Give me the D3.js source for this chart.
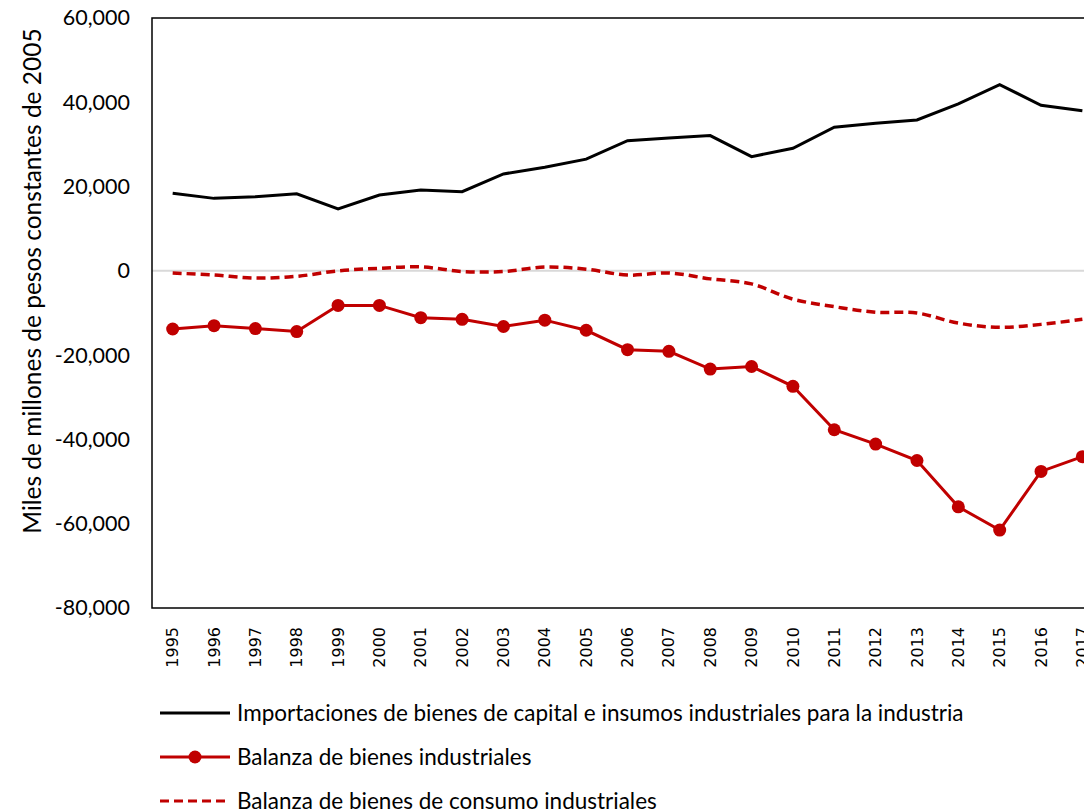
<!DOCTYPE html>
<html>
<head>
<meta charset="utf-8">
<script src="https://cdnjs.cloudflare.com/ajax/libs/d3/7.8.5/d3.min.js"></script>
<style>
  body { margin: 0; background: #fff; }
  svg { display: block; }
</style>
</head>
<body>
<script>
(function () {

// data
var years = [1995, 1996, 1997, 1998, 1999, 2000, 2001, 2002, 2003, 2004, 2005, 2006,
             2007, 2008, 2009, 2010, 2011, 2012, 2013, 2014, 2015, 2016, 2017];

var importaciones = [18400, 17200, 17600, 18300, 14700, 18000, 19200, 18800, 23000, 24600, 26500, 30900,
                     31500, 32100, 27100, 29100, 34100, 35000, 35800, 39600, 44200, 39300, 38000];

var balanzaIndustriales = [-13800, -13000, -13700, -14400, -8200, -8200, -11100, -11500, -13200, -11700, -14100, -18700,
                           -19100, -23300, -22700, -27400, -37700, -41100, -45000, -56000, -61500, -47600, -44100];

var balanzaConsumo = [-500, -1000, -1700, -1300, 0, 600, 950, -150, -150, 900, 400, -1000,
                      -500, -1900, -3100, -6700, -8500, -9800, -10000, -12400, -13400, -12700, -11500];

var yTicks = [-80000, -60000, -40000, -20000, 0, 20000, 40000, 60000];

var legendLabels = [
    "Importaciones de bienes de capital e insumos industriales para la industria",
    "Balanza de bienes industriales",
    "Balanza de bienes de consumo industriales"
];

var red = "#C00000";

var width = 1084;
var height = 812;

var margin = { top: 18, left: 152, bottom: 608 };
var step = 41.35;

var svg = d3.select("body")
  .append("svg")
    .attr("width", width)
    .attr("height", height);

var x = d3.scalePoint()
    .domain(years)
    .range([margin.left, margin.left + step * years.length])
    .padding(0.5);

var y = d3.scaleLinear()
    .domain([-80000, 60000])
    .range([margin.bottom, margin.top]);

// zero line
svg.append("line")
    .attr("x1", margin.left)
    .attr("x2", width)
    .attr("y1", y(0))
    .attr("y2", y(0))
    .attr("stroke", "#d9d9d9")
    .attr("stroke-width", 2);

// plot border
svg.append("rect")
    .attr("x", margin.left)
    .attr("y", margin.top)
    .attr("width", step * years.length)
    .attr("height", margin.bottom - margin.top)
    .attr("fill", "none")
    .attr("stroke", "#000")
    .attr("stroke-width", 1.5);

// y axis labels (plain hyphen for negatives, like the original)
var fmt = d3.format(",");
var yAxis = d3.axisLeft(y)
    .tickValues(yTicks)
    .tickFormat(function (d) { return fmt(d).replace("\u2212", "-"); })
    .tickSize(0)
    .tickPadding(22);

svg.append("g")
    .attr("transform", "translate(" + margin.left + ",0)")
    .call(yAxis)
    .call(function (g) { g.select(".domain").remove(); })
    .selectAll("text")
    .attr("font-family", "Lato, sans-serif")
    .attr("font-size", 21.5)
    .attr("fill", "#000");

// x axis labels, rotated
var xAxis = d3.axisBottom(x)
    .tickSize(0)
    .tickPadding(0);

svg.append("g")
    .attr("transform", "translate(0," + margin.bottom + ")")
    .call(xAxis)
    .call(function (g) { g.select(".domain").remove(); })
    .selectAll("text")
    .attr("font-family", "DejaVu Sans, sans-serif")
    .attr("font-size", 16)
    .attr("fill", "#000")
    .attr("text-anchor", "end")
    .attr("dy", "0.35em")
    .attr("transform", "translate(-0.5,19) rotate(-90)")
    .attr("y", 0)
    .attr("x", 0);

// axis title
svg.append("text")
    .attr("transform", "translate(41,281) rotate(-90)")
    .attr("text-anchor", "middle")
    .attr("font-family", "Lato, sans-serif")
    .attr("font-size", 24.5)
    .attr("fill", "#000")
    .text("Miles de millones de pesos constantes de 2005");

var straight = d3.line()
    .x(function (d, i) { return x(years[i]); })
    .y(function (d) { return y(d); });

var smooth = d3.line()
    .x(function (d, i) { return x(years[i]); })
    .y(function (d) { return y(d); })
    .curve(d3.curveCatmullRom.alpha(0.5));

svg.append("path")
    .datum(balanzaConsumo)
    .attr("d", smooth)
    .attr("fill", "none")
    .attr("stroke", red)
    .attr("stroke-width", 3.5)
    .attr("stroke-dasharray", "9,5");

svg.append("path")
    .datum(importaciones)
    .attr("d", straight)
    .attr("fill", "none")
    .attr("stroke", "#000")
    .attr("stroke-width", 3);

svg.append("path")
    .datum(balanzaIndustriales)
    .attr("d", straight)
    .attr("fill", "none")
    .attr("stroke", red)
    .attr("stroke-width", 3);

svg.selectAll(".dot")
    .data(balanzaIndustriales)
    .enter()
    .append("circle")
    .attr("class", "dot")
    .attr("cx", function (d, i) { return x(years[i]); })
    .attr("cy", function (d) { return y(d); })
    .attr("r", 6.5)
    .attr("fill", red);

// legend
var legend = svg.append("g")
    .attr("transform", "translate(160,713)");

var rows = legend.selectAll(".row")
    .data(legendLabels)
    .enter()
    .append("g")
    .attr("class", "row")
    .attr("transform", function (d, i) { return "translate(0," + (i * 44) + ")"; });

rows.append("line")
    .attr("x1", 0)
    .attr("x2", 70)
    .attr("y1", 0)
    .attr("y2", 0)
    .attr("stroke", function (d, i) { return i === 0 ? "#000" : red; })
    .attr("stroke-width", 3)
    .attr("stroke-dasharray", function (d, i) { return i === 2 ? "9,5" : null; });

rows.filter(function (d, i) { return i === 1; })
    .append("circle")
    .attr("cx", 35)
    .attr("cy", 0)
    .attr("r", 6.5)
    .attr("fill", red);

rows.append("text")
    .attr("x", 77)
    .attr("y", 0)
    .attr("dy", "0.35em")
    .attr("font-family", "Lato, sans-serif")
    .attr("font-size", 22.5)
    .attr("fill", "#000")
    .text(function (d) { return d; });

}());
</script>
</body>
</html>
